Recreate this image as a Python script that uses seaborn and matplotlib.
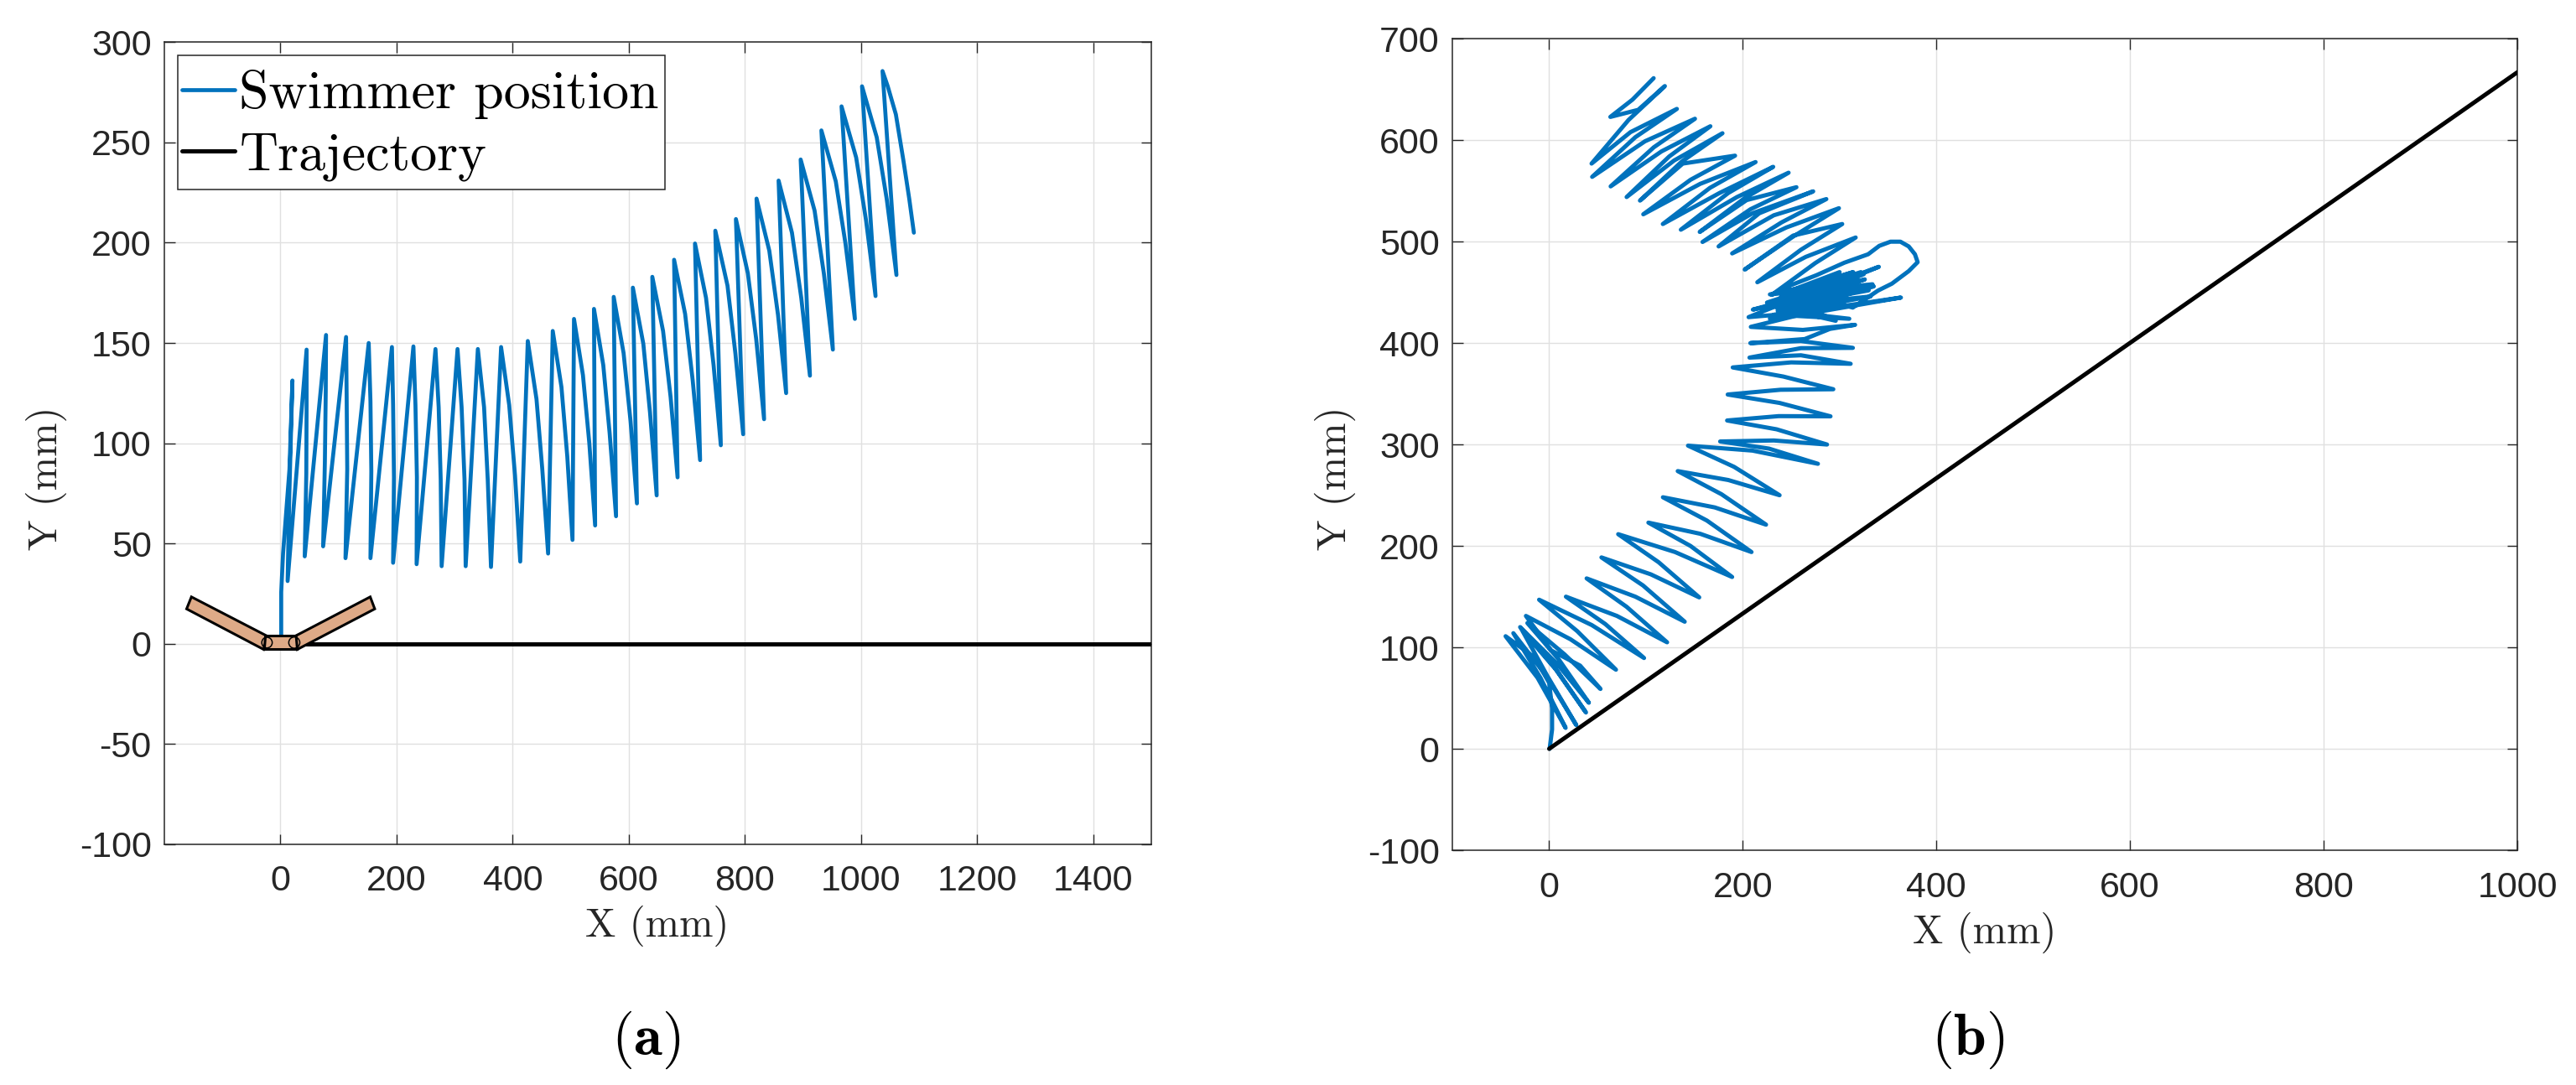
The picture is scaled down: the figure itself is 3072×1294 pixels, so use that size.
import matplotlib
matplotlib.use("Agg")
import matplotlib.pyplot as plt
from matplotlib.patches import Polygon, Ellipse, Rectangle
from matplotlib.font_manager import FontProperties
import seaborn as sns

# ---------- panel (a) data ----------
a_swim_x = [0, 1.3, 1.3, 4.5, 11, 15.5, 20.6, 18, 15, 12.3, 45, 45, 44.5, 41.8, 78.5, 78, 76.5, 73.5,
            113, 114, 115, 112, 152, 155, 156.5, 155, 192, 194, 195.5, 194, 229, 232.5, 235, 234.5,
            267, 272.5, 276, 277.6, 305, 312, 317, 319, 340, 350.7, 357, 362.6, 380, 394, 404, 413,
            426, 441, 451, 461, 469, 484, 494, 503, 505.6, 521, 532, 542, 540, 556, 567, 578,
            574, 591, 603, 614, 607, 625, 636.5, 648, 640.5, 659, 672, 684, 678, 697, 710, 722.8,
            714, 733, 746, 758.5, 749, 770, 783.5, 797, 784.5, 805, 819.4, 833, 820, 842, 857, 871,
            858, 881, 897, 912, 896, 920, 936, 951.5, 931.7, 956.5, 973.2, 989.4,
            966.4, 991.6, 1008.6, 1025, 1001.7, 1027, 1044.4, 1061, 1037, 1046, 1060, 1073, 1083, 1091]
a_swim_y = [0, 4.9, 25.8, 45.2, 70, 87, 131.3, 104, 71, 31.3, 146.7, 119, 85, 43.6, 154, 126, 91, 48.6,
            153, 123, 87, 42.7, 150, 121, 86, 42.7, 148, 119, 83, 40.4, 148.3, 119, 83, 39.7,
            147, 118, 82, 38.7, 147, 118, 82, 38.7, 147, 118, 82, 38.3, 148, 119, 84, 41,
            151, 122, 87, 45, 156, 128, 93.5, 51.8, 162, 134, 100, 59, 167, 139, 105, 63.6,
            173, 145, 111, 70, 177.6, 149.6, 115.4, 74, 183, 156, 123, 83, 191.5, 164.5, 131.5, 91.6,
            199.6, 172.5, 139, 99, 206, 178.6, 145, 104.5, 211.8, 184.8, 152, 112, 222, 196, 164, 125,
            231, 205, 172.6, 133.7, 241.5, 216, 184.6, 146.7, 256, 230.6, 199.6, 162,
            268, 242.5, 211.2, 173.4, 278, 252.6, 221.5, 183.9, 285.6, 278, 264, 241, 222, 205]
a_traj_x = [0, 1500]
a_traj_y = [0, 0]

# swimmer icon outline (mm)
arm_left = [(-153.4, 23.4), (-161.7, 17.4), (-29, -2.8), (-22.5, 3.8)]
arm_right = [(154.6, 23.4), (162.4, 17.4), (29, -2.8), (25, 3.8)]
body = [(-25.8, 3.9), (27, 3.9), (29, -2.8), (-27.7, -2.8)]
joints = [(-23.2, 0.6, 18, 5.3), (23.8, 0.6, 19, 5.6)]

# ---------- panel (b) data ----------
b_swim_x = [0.5, 3, 3, 0, -15, -45, -12, 17, -9, -37, -3, 28, -2, -28, 7, 38, 6, -30, 8, 41, 10, -22.5,
            16, 53, 32, 2, -24, 22, 69, 29, -10.4, 44, 98, 58, 17.3, 70, 121.8, 80, 38.7, 89, 140,
            97, 54, 105, 155, 113, 71.3, 130, 189, 146, 102.5, 156, 209, 163, 117.5, 171, 224,
            178, 132.8, 185, 238, 191, 143.4, 210, 277.6, 227, 176.6, 232, 287, 235, 183.8,
            237, 290.6, 238, 184.4, 239, 293.5, 242, 189.6, 250, 311.4, 260, 206.9, 260, 313.7,
            260, 207.8, 264, 290, 316, 262, 208.3, 285, 363.3, 285, 206, 275, 340.5, 275, 210.4,
            272, 335.3, 280, 228, 280, 326, 235, 330, 225, 322, 240, 332, 232, 318, 238, 334, 228,
            325, 236, 310, 232, 305, 228, 300, 250, 314, 240, 296, 236, 280, 313.6, 339.7, 354, 371.4,
            380.6, 377.8, 371.4, 362.8, 352.6, 341, 329.5,
            305, 276.2, 250.2, 230, 275, 316.6, 265, 215, 260, 302.7, 252, 202,
            252, 299.3, 245, 189, 240, 286.3, 232, 175, 217, 272.7, 210, 158.4, 208, 255.4, 204,
            155.5, 202, 247.3, 194, 136, 185, 231.4, 176, 117.4, 166, 213.2, 156, 97.2, 146, 192,
            138, 93.8, 137, 179, 129, 80, 124, 166.5, 116, 63.5, 108, 150.6, 99, 44.4, 89, 131.9,
            84, 43.8, 82, 119.5, 92, 63.2, 86, 107.9]
b_swim_y = [0, 19, 40, 65, 90, 111, 70, 20.6, 70, 114, 72, 23.4, 72, 117, 78, 35.8, 80, 120, 84, 45.4, 88, 124,
            93, 59, 82, 97, 131, 108, 78, 116, 147, 122, 89.5, 123, 150, 131, 105, 140, 168, 150, 125.3,
            161, 188.7, 172, 149.3, 184, 211.6, 194, 169.4, 200, 223, 212, 194, 225, 248, 238, 221,
            251, 273.8, 265, 250, 278, 298.9, 294, 281, 296, 303, 304, 300, 315, 323.7,
            328, 327.8, 341, 349.3, 354, 354.5, 367, 376, 381, 379.6, 388, 385.7, 395, 395.3,
            402, 400, 404, 414, 418, 413, 416, 434, 444.9, 432, 425.6, 452, 475.2, 450, 433,
            446, 455.9, 440, 424, 450, 462.8, 435, 452, 440, 470, 430, 446, 436, 464, 444, 458, 448,
            468, 432, 424, 428, 438, 436, 470, 452, 470, 447, 422, 435, 444, 435, 451.8, 458.6, 471,
            479.8, 487.6, 495.3, 500, 500, 495.9, 487.6,
            479.3, 467, 457.3, 447.6, 479, 504.1, 485, 460, 492, 517.4, 506, 472.5,
            505, 533, 514, 488.4, 519, 542, 526, 495.3, 528, 549.6, 528, 499.7, 532, 553.7, 541,
            509.6, 543, 568, 544, 511.8, 548, 573.8, 548, 517.4, 553, 578.5, 557, 527, 561, 584.8,
            577, 540.5, 579, 606.9, 580, 544, 584, 613.8, 589, 554.5, 593, 621.2, 599, 563.9, 603, 630.9,
            608, 577, 620, 653.4, 630, 623, 640, 661.2]
b_traj_x = [0, 1000]
b_traj_y = [0, 667]

# ---------- shared labels ----------
a_xticks = [0, 200, 400, 600, 800, 1000, 1200, 1400]
a_yticks = [-100, -50, 0, 50, 100, 150, 200, 250, 300]
b_xticks = [0, 200, 400, 600, 800, 1000]
b_yticks = [-100, 0, 100, 200, 300, 400, 500, 600, 700]
legend_labels = ["Swimmer position", "Trajectory"]

BLUE = "#0072BD"
DARK = "#262626"
GRID = "#E0E0E0"
W, H = 3072, 1294

sns.set_theme(style="whitegrid")
plt.rcParams["font.family"] = ["Liberation Sans", "DejaVu Sans"]
plt.rcParams["axes.unicode_minus"] = False
plt.rcParams["mathtext.fontset"] = "cm"

fig = plt.figure(figsize=(W / 100, H / 100), dpi=100, facecolor="white")


def make_axes(l, t, r, b):
    return fig.add_axes([l / W, 1 - b / H, (r - l) / W, (b - t) / H])


def style(ax, xt, yt, xlim, ylim, xpad):
    ax.set_xlim(*xlim)
    ax.set_ylim(*ylim)
    ax.set_xticks(xt)
    ax.set_yticks(yt)
    ax.grid(True, color=GRID, lw=1.0)
    ax.set_axisbelow(True)
    for s in ax.spines.values():
        s.set_color(DARK)
        s.set_linewidth(1.1)
        s.set_visible(True)
    ax.tick_params(axis="x", direction="in", length=9, width=1, color=DARK, top=True, bottom=True,
                   labelsize=31, labelcolor=DARK, pad=xpad)
    ax.tick_params(axis="y", direction="in", length=9, width=1, color=DARK, left=True, right=True,
                   labelsize=31, labelcolor=DARK, pad=11)


serif = FontProperties(family="cmr10", size=35)

# panel (a)
ax1 = make_axes(196, 50.3, 1373, 1007)
sns.lineplot(x=a_swim_x, y=a_swim_y, sort=False, estimator=None, errorbar=None, ax=ax1, color=BLUE, lw=3.4,
             solid_joinstyle="round", solid_capstyle="round", label=legend_labels[0], zorder=3)
sns.lineplot(x=a_traj_x, y=a_traj_y, sort=False, estimator=None, errorbar=None, ax=ax1, color="black", lw=3.6,
             label=legend_labels[1], zorder=3)
style(ax1, a_xticks, a_yticks, (-200, 1500), (-100, 300), 17)
for pts in (arm_left, arm_right, body):
    ax1.add_patch(Polygon(pts, closed=True, fc="#DEAA87", ec="black", lw=2.2, zorder=5))
for cx, cy, w, h in joints:
    ax1.add_patch(Ellipse((cx, cy), w, h, fc="none", ec="black", lw=1.1, zorder=6))

box = Rectangle((211.6 / W, 1 - 226.3 / H), (793 - 211.6) / W, 160 / H, transform=fig.transFigure,
                fc="white", ec=DARK, lw=1.1, zorder=6)
ax1.add_patch(box)
leg = ax1.legend(loc="upper left", bbox_to_anchor=(217 / W, 1 - 83 / H), bbox_transform=fig.transFigure,
                 prop=FontProperties(family="cmr10", size=46), frameon=False, borderaxespad=0, borderpad=0,
                 handlelength=0.98, handletextpad=0.09, labelspacing=0.24)
leg.set_zorder(7)
for t in leg.get_texts():
    t.set_color("black")

# panel (b)
ax2 = make_axes(1732, 46.3, 3002, 1014)
sns.lineplot(x=b_swim_x, y=b_swim_y, sort=False, estimator=None, errorbar=None, ax=ax2, color=BLUE, lw=3.6,
             solid_joinstyle="round", solid_capstyle="round", legend=False, zorder=3)
sns.lineplot(x=b_traj_x, y=b_traj_y, sort=False, estimator=None, errorbar=None, ax=ax2, color="black", lw=3.6,
             legend=False, zorder=4)
style(ax2, b_xticks, b_yticks, (-100, 1000), (-100, 700), 18)

# axis labels and captions in figure pixels
for txt, px, py, rot in [("X (mm)", 784, 1104, 0), ("X (mm)", 2367, 1112, 0),
                         ("Y (mm)", 55, 570, 90), ("Y (mm)", 1592, 570, 90)]:
    fig.text(px / W, 1 - py / H, txt, ha="center", va="center", rotation=rot, color=DARK, fontproperties=serif)
for txt, px, py in [(r"$(\mathbf{a})$", 770, 1240), (r"$(\mathbf{b})$", 2347, 1240)]:
    fig.text(px / W, 1 - py / H, txt, ha="center", va="center", fontsize=50, color="black")

fig.savefig("out.png", dpi=100, facecolor="white")
